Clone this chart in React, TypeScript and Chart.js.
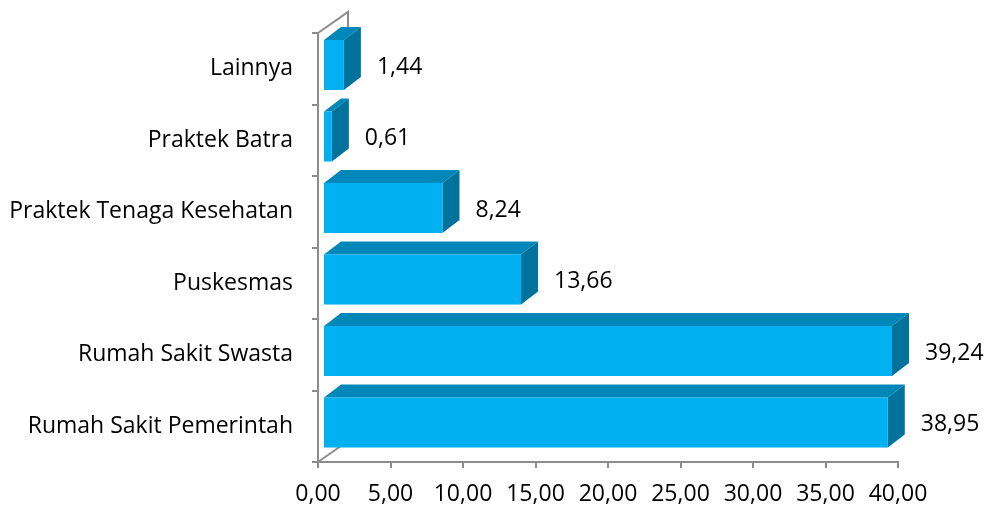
import React, { useEffect, useRef } from "react";
import { Chart, registerables } from "chart.js";

Chart.register(...registerables);

const categories = [
  "Lainnya",
  "Praktek Batra",
  "Praktek Tenaga Kesehatan",
  "Puskesmas",
  "Rumah Sakit Swasta",
  "Rumah Sakit Pemerintah",
];
const values = [1.44, 0.61, 8.24, 13.66, 39.24, 38.95];
const valueLabels = ["1,44", "0,61", "8,24", "13,66", "39,24", "38,95"];
const xMin = 0;
const xMax = 40;
const xStep = 5;

const FONT = "'Open Sans', Lato, sans-serif";
const FONT_SIZE = 23;
const AXIS_COLOR = "#8c8c8c";
const FRONT = "#00B0F0";
const TOP = "#0087BA";
const SIDE = "#00729C";

const fmt = (v: number) => v.toFixed(2).replace(".", ",");

const bar3d = {
  id: "bar3d",
  beforeDatasetsDraw(chart: any) {
    const { ctx, chartArea } = chart;
    const { left, top, bottom } = chartArea;
    ctx.save();
    ctx.strokeStyle = AXIS_COLOR;
    ctx.lineWidth = 2;
    ctx.beginPath();
    ctx.moveTo(left, top);
    ctx.lineTo(left + 30, top - 21);
    ctx.lineTo(left + 30, top - 4);
    ctx.moveTo(left, bottom);
    ctx.lineTo(left + 30, bottom - 21);
    ctx.stroke();
    ctx.restore();
  },
  afterDatasetsDraw(chart: any) {
    const { ctx } = chart;
    const meta = chart.getDatasetMeta(0);
    const dx0 = 5, dy0 = -3.75, dx = 17, dy = -13;
    ctx.save();
    meta.data.forEach((el: any, i: number) => {
      const h = el.height;
      const fx0 = el.base + dx0;
      const fx1 = el.x + dx0;
      const fy0 = el.y - h / 2 + dy0;
      const fy1 = el.y + h / 2 + dy0;
      ctx.fillStyle = TOP;
      ctx.beginPath();
      ctx.moveTo(fx0, fy0);
      ctx.lineTo(fx1, fy0);
      ctx.lineTo(fx1 + dx, fy0 + dy);
      ctx.lineTo(fx0 + dx, fy0 + dy);
      ctx.closePath();
      ctx.fill();
      ctx.fillStyle = SIDE;
      ctx.beginPath();
      ctx.moveTo(fx1, fy0);
      ctx.lineTo(fx1 + dx, fy0 + dy);
      ctx.lineTo(fx1 + dx, fy1 + dy);
      ctx.lineTo(fx1, fy1);
      ctx.closePath();
      ctx.fill();
      ctx.fillStyle = FRONT;
      ctx.fillRect(fx0, fy0, fx1 - fx0, fy1 - fy0);
      ctx.fillStyle = "#000";
      ctx.font = `${FONT_SIZE}px ${FONT}`;
      ctx.textAlign = "left";
      ctx.textBaseline = "middle";
      ctx.fillText(valueLabels[i], fx1 + dx + 16, el.y + dy0 + 2);
    });
    ctx.restore();
  },
};

export default function App() {
  const ref = useRef<HTMLCanvasElement | null>(null);
  useEffect(() => {
    if (!ref.current) return;
    const chart = new Chart(ref.current, {
      type: "bar",
      data: {
        labels: categories,
        datasets: [
          {
            data: values,
            backgroundColor: "rgba(0,0,0,0)",
            borderWidth: 0,
            categoryPercentage: 1,
            barPercentage: 0.7,
          },
        ],
      },
      options: {
        indexAxis: "y",
        responsive: false,
        animation: false,
        layout: { padding: { top: 33, right: 95, left: 0, bottom: 0 } },
        plugins: {
          legend: { display: false },
          tooltip: { enabled: false },
        },
        scales: {
          x: {
            min: xMin,
            max: xMax,
            ticks: {
              stepSize: xStep,
              color: "#000",
              font: { family: FONT, size: FONT_SIZE },
              padding: 13,
              maxRotation: 0,
              callback: (v: any) => fmt(Number(v)),
            },
            grid: {
              drawOnChartArea: false,
              color: AXIS_COLOR,
              lineWidth: 2,
              tickLength: 6,
            },
            border: { color: AXIS_COLOR, width: 2 },
            afterFit: (s: any) => {
              s.height = 48;
            },
          },
          y: {
            ticks: {
              color: "#000",
              font: { family: FONT, size: FONT_SIZE },
              padding: 19,
            },
            grid: {
              drawOnChartArea: false,
              color: AXIS_COLOR,
              lineWidth: 2,
              tickLength: 6,
            },
            border: { color: AXIS_COLOR, width: 2 },
            afterFit: (s: any) => {
              s.width = 318;
            },
          },
        },
      },
      plugins: [bar3d],
    });
    return () => chart.destroy();
  }, []);
  return (
    <div style={{ position: "absolute", left: 0, top: 0, width: 993, height: 510, background: "#fff" }}>
      <canvas ref={ref} width={993} height={510} />
    </div>
  );
}
